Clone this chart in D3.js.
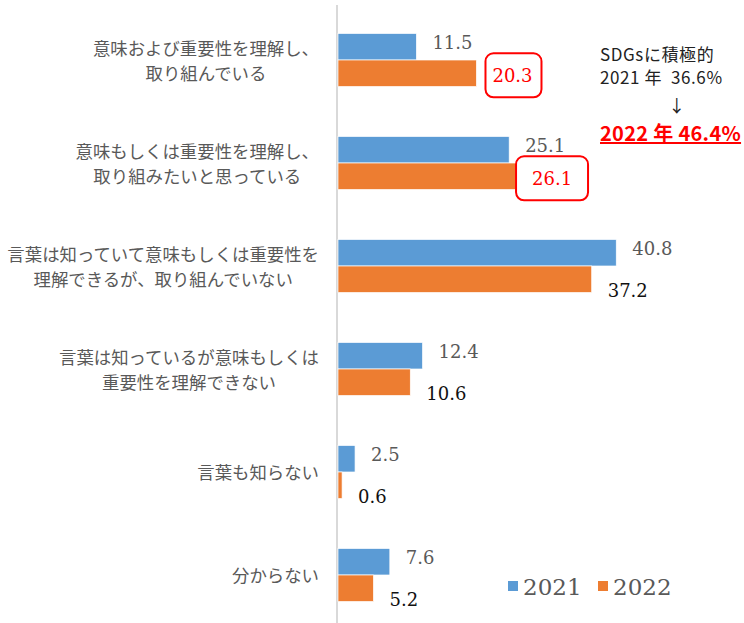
<!DOCTYPE html>
<head>
<meta charset="utf-8">
<style>
  body { margin: 0; background: #fff; }
  .cat { font-family: 'Noto Sans CJK JP', sans-serif; font-size: 17.4px; fill: #595959; }
  .v21 { font-family: 'DejaVu Serif', serif; font-size: 18px; fill: #595959; }
  .v22 { font-family: 'DejaVu Serif', serif; font-size: 18px; fill: #111; }
  .v22.hi { fill: #ff0000; }
  .note { font-family: 'Noto Sans CJK JP', sans-serif; font-size: 17px; fill: #222; letter-spacing: 0.6px; }
  .legend text { font-family: 'DejaVu Serif', serif; font-size: 23px; fill: #595959; }
</style>
<title>SDGs</title>
</head>
<body>
<svg width="744" height="623"></svg>
<script src="https://cdn.jsdelivr.net/npm/d3@7"></script>
<script>

var categories = [
  ["意味および重要性を理解し、", "取り組んでいる"],
  ["意味もしくは重要性を理解し、", "取り組みたいと思っている"],
  ["言葉は知っていて意味もしくは重要性を", "理解できるが、取り組んでいない"],
  ["言葉は知っているが意味もしくは", "重要性を理解できない"],
  ["言葉も知らない"],
  ["分からない"]
];
var series = ["2021", "2022"];
var values2021 = [11.5, 25.1, 40.8, 12.4, 2.5, 7.6];
var values2022 = [20.3, 26.1, 37.2, 10.6, 0.6, 5.2];
var highlighted = [0, 1];   // 2022 labels drawn in red boxes
var noteLines = ["SDGsに積極的", "2021 年  36.6%", "↓", "2022 年 46.4%"];

var colors = {"2021": "#5b9bd5", "2022": "#ed7d31"};

var svg = d3.select("svg");

var x = d3.scaleLinear().domain([0, 45]).range([338, 338 + 45 * 6.82]);
var y = d3.scaleBand().domain(d3.range(categories.length))
    .range([8.5, 626.5]).paddingInner(0.485).paddingOuter(0.2425);
var ys = d3.scaleBand().domain(series).range([0, y.bandwidth()]);

var rows = categories.map(function(c, i) {
  return {i: i, lines: c, "2021": values2021[i], "2022": values2022[i]};
});

// axis line
svg.append("line")
    .attr("x1", x(0) - 1).attr("x2", x(0) - 1)
    .attr("y1", 5).attr("y2", 623)
    .attr("stroke", "#d9d9d9").attr("stroke-width", 2);

var g = svg.selectAll(".row").data(rows).enter().append("g")
    .attr("class", "row")
    .attr("transform", function(d) { return "translate(0," + y(d.i) + ")"; });

series.forEach(function(s) {
  g.append("rect")
      .attr("x", x(0))
      .attr("y", ys(s))
      .attr("width", function(d) { return x(d[s]) - x(0); })
      .attr("height", ys.bandwidth())
      .attr("fill", colors[s])
      .attr("stroke", "#fff").attr("stroke-width", 0.7);
});

// 2021 labels
g.append("text")
    .attr("class", "v21")
    .attr("x", function(d) { return x(d["2021"]) + 16; })
    .attr("y", ys("2021") + ys.bandwidth() / 2 - 4)
    .attr("dominant-baseline", "central")
    .text(function(d) { return d["2021"].toFixed(1); });

// 2022 labels
var lab22 = g.append("text")
    .attr("class", function(d) { return highlighted.indexOf(d.i) >= 0 ? "v22 hi" : "v22"; })
    .attr("x", function(d) { return x(d["2022"]) + 16; })
    .attr("y", function(d) {
      return ys("2022") + ys.bandwidth() / 2 + (highlighted.indexOf(d.i) >= 0 ? 2 : 11);
    })
    .attr("dominant-baseline", "central")
    .text(function(d) { return d["2022"].toFixed(1); });

lab22.each(function(d) {
  if (highlighted.indexOf(d.i) < 0) return;
  var b = this.getBBox();
  var cx = b.x + b.width / 2, cy = b.y + b.height / 2;
  var w = d.i === 0 ? 56 : 72;
  d3.select(this.parentNode).append("rect")
      .attr("x", cx - w / 2 + (d.i === 0 ? 1 : 0)).attr("y", cy - 22)
      .attr("width", w).attr("height", 44)
      .attr("rx", 8)
      .attr("fill", "none").attr("stroke", "#ff0000").attr("stroke-width", 2);
});

// category labels, lines centred, block right-aligned
g.each(function(d) {
  var t = d3.select(this).append("text").attr("class", "cat");
  var n = d.lines.length;
  d.lines.forEach(function(l, k) {
    t.append("tspan")
        .attr("y", y.bandwidth() / 2 + (k - (n - 1) / 2) * 25)
        .attr("dominant-baseline", "central")
        .text(l);
  });
  var maxw = 0;
  t.selectAll("tspan").each(function() { maxw = Math.max(maxw, this.getComputedTextLength()); });
  t.attr("text-anchor", "middle").selectAll("tspan").attr("x", 319 - maxw / 2);
});

// note at right
var note = svg.append("g");
note.append("text").attr("class", "note").attr("x", 600).attr("y", 53)
    .attr("dominant-baseline", "central").text(noteLines[0]);
note.append("text").attr("class", "note").attr("x", 600).attr("y", 76)
    .attr("dominant-baseline", "central").style("white-space", "pre").text(noteLines[1]);
note.append("text").attr("class", "note").attr("x", 677).attr("y", 104)
    .attr("text-anchor", "middle")
    .attr("dominant-baseline", "central").text(noteLines[2]);
var big = note.append("text").attr("class", "note").attr("x", 600).attr("y", 132)
    .attr("dominant-baseline", "central")
    .style("font-size", "20px").style("font-weight", "bold").style("fill", "#ff0000")
    .style("letter-spacing", "0.3px")
    .text(noteLines[3]);
var bw = big.node().getComputedTextLength();
note.append("line")
    .attr("x1", 600).attr("x2", Math.min(600 + bw, 743))
    .attr("y1", 143).attr("y2", 143)
    .attr("stroke", "#ff0000").attr("stroke-width", 2);

// legend
var legend = svg.append("g").attr("class", "legend");
var lx = [508, 598];
series.forEach(function(s, k) {
  legend.append("rect")
      .attr("x", lx[k]).attr("y", 581).attr("width", 10).attr("height", 10)
      .attr("fill", colors[s]);
  legend.append("text")
      .attr("x", lx[k] + 15).attr("y", 587)
      .attr("dominant-baseline", "central")
      .text(s);
});

</script>
</body>
